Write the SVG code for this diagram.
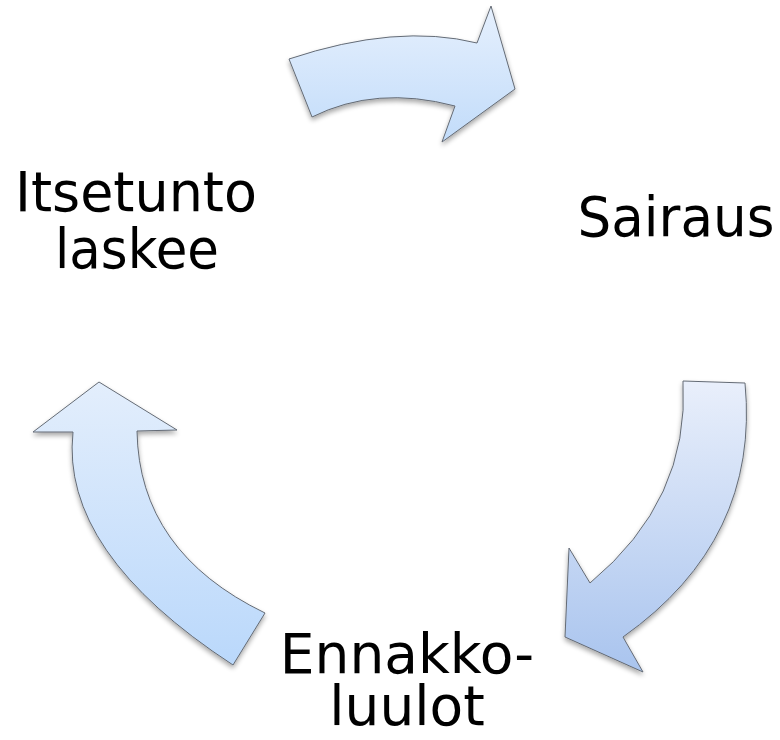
<svg xmlns="http://www.w3.org/2000/svg" width="780" height="740" viewBox="0 0 780 740">
<defs>
<linearGradient id="gTop" x1="0" y1="0" x2="0" y2="1"><stop offset="0" stop-color="#e6f0fd"/><stop offset="1" stop-color="#c2dcfa"/></linearGradient>
<linearGradient id="gRight" x1="0" y1="0" x2="0" y2="1"><stop offset="0" stop-color="#e9effb"/><stop offset="1" stop-color="#a9c4ee"/></linearGradient>
<linearGradient id="gLeft" x1="0" y1="0" x2="0" y2="1"><stop offset="0" stop-color="#e3eefc"/><stop offset="1" stop-color="#bad8fb"/></linearGradient>
<filter id="sh" x="-20%" y="-20%" width="140%" height="140%"><feGaussianBlur in="SourceAlpha" stdDeviation="2.5"/><feOffset dx="0" dy="3" result="b"/><feComponentTransfer><feFuncA type="linear" slope="0.35"/></feComponentTransfer><feMerge><feMergeNode/><feMergeNode in="SourceGraphic"/></feMerge></filter>
</defs>
<style>
.arr{stroke:#646b75;stroke-width:1;stroke-linejoin:miter;filter:url(#sh)}
.lbl{font-family:"DejaVu Sans",Verdana,sans-serif;font-size:55px;fill:#000;text-anchor:middle}
</style>
<g id="connectors">
<path class="arr" fill="url(#gTop)" d="M289,59 Q397,23 477,43 L491,6 L515,89 L442,142 L455,106 Q376,85 312,117 Z"/>
<path class="arr" fill="url(#gRight)" d="M683,381 L745,383 Q760,540 623,637 L643,672 L565,637 L569,548 L590,583 Q690,500 683,381 Z"/>
<path class="arr" fill="url(#gLeft)" d="M99,382 L177,430 L137,431 Q139,552 265,613 L233,665 Q60,552 73,432 L33,432 Z"/>
</g>
<g id="node-itsetunto"><text class="lbl" x="136" y="211" font-size="56" textLength="242" lengthAdjust="spacingAndGlyphs">Itsetunto</text><text class="lbl" x="137" y="268" font-size="56" textLength="164" lengthAdjust="spacingAndGlyphs">laskee</text></g>
<g id="node-sairaus"><text class="lbl" x="676" y="236" font-size="56" textLength="197" lengthAdjust="spacingAndGlyphs">Sairaus</text></g>
<g id="node-ennakkoluulot"><text class="lbl" x="407" y="673">Ennakko-</text><text class="lbl" x="407" y="725">luulot</text></g>
</svg>
